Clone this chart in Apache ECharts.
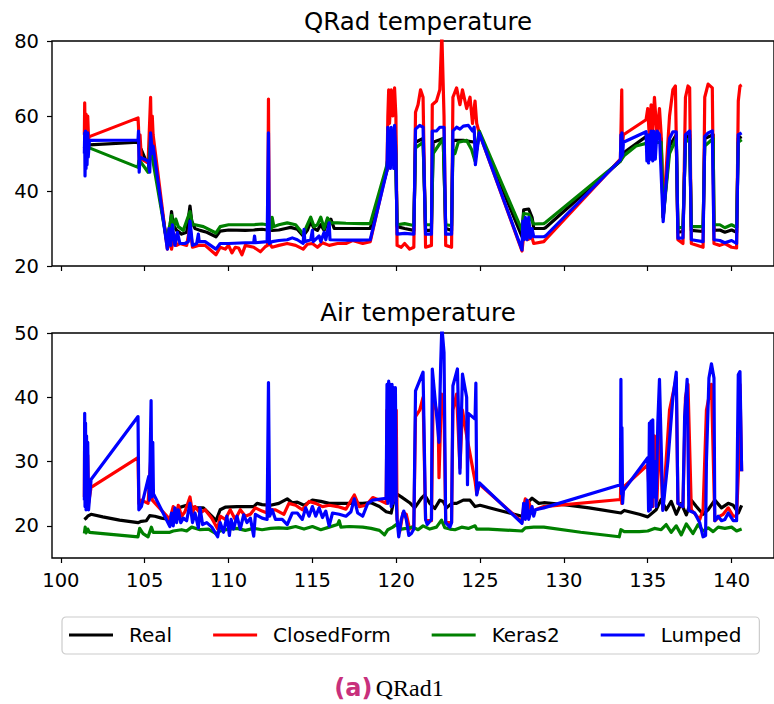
<!DOCTYPE html>
<html>
<head>
<meta charset="utf-8">
<script src="https://cdn.jsdelivr.net/npm/echarts@6/dist/echarts.min.js"></script>
<style>
html,body{margin:0;padding:0;background:#fff;}
#chart{width:774px;height:704px;}
</style>
</head>
<body>
<div id="chart"></div>
<script>
// ---------- DATA ----------
const seriesNames = ['Real', 'ClosedForm', 'Keras2', 'Lumped'];
const seriesColors = ['#000000', '#ff0000', '#008000', '#0000ff'];
const xTicks = [100, 105, 110, 115, 120, 125, 130, 135, 140];
const qradTicks = [20, 40, 60, 80];
const airTicks = [20, 30, 40, 50];
const plotTitles = ['QRad temperature', 'Air temperature'];

// QRad temperature (top)
const qradReal = [[101.4,51.5],[101.45,52.5],[101.5,52],[101.6,52.5],[101.7,52.3],[104.6,53],[104.65,52],[104.8,51],[105.1,47.8],[105.3,48.5],[105.38,53],[105.5,50],[106.3,27],[106.5,30],[106.6,34.5],[106.7,31],[106.9,29.5],[107.2,28.5],[107.5,29],[107.7,36],[107.8,32],[108,30],[108.3,29.5],[108.7,29],[109.25,27.8],[109.5,29.3],[110,29.6],[111,29.5],[111.5,29.6],[112,29.8],[112.3,29.6],[112.6,29.5],[113,29.6],[113.4,30],[113.7,30.3],[114.1,29.8],[114.45,28],[114.7,29.5],[114.9,31.8],[115.1,30],[115.3,29.5],[115.5,31],[115.7,29.5],[115.9,31.5],[116.1,32.5],[116.3,30],[117,30],[118,30],[118.45,30],[119.45,45.5],[119.55,53],[119.65,50],[119.75,55],[119.85,52],[119.95,55.5],[120.05,30.5],[120.5,30],[121.05,29.5],[121.15,53],[121.6,54],[121.75,29.5],[122.1,29.5],[122.2,53],[122.8,54],[122.95,30],[123.3,29.5],[123.38,53.5],[124,53.5],[124.7,53],[124.8,51],[124.95,55.5],[127.5,27.8],[127.6,35],[127.9,35.2],[128.1,33],[128.2,30],[128.8,30],[128.9,30.2],[133.37,48],[133.5,50],[134.9,54.5],[135.8,54],[135.92,33],[136.3,52],[136.7,55],[136.8,29],[137.1,29.2],[137.25,54],[137.5,55],[137.6,29.5],[138.3,29.2],[138.4,54],[138.9,55],[138.95,29.5],[139.3,29.6],[139.6,29],[140,29.6],[140.3,29],[140.4,54],[140.6,54.5]];
const qradClosedForm = [[101.4,55],[101.42,63.5],[101.45,54],[101.5,60.5],[101.55,55],[101.6,60],[101.65,54],[101.7,54.5],[104.6,59.5],[104.63,57],[104.67,48],[104.72,55],[104.8,48.5],[105.2,47.5],[105.35,65],[105.4,52],[105.45,60],[105.5,55],[106.35,24.5],[106.5,27],[106.6,24.5],[106.75,28.5],[106.9,25.5],[107.1,26],[107.5,25.5],[107.7,30.5],[107.85,25],[108.2,25.5],[108.6,25.5],[109.25,23],[109.5,25],[109.8,24.5],[110,25.5],[110.2,23.5],[110.4,25],[110.6,24.8],[110.8,23],[111,25.5],[111.5,25],[111.9,23.8],[112.2,25.2],[112.33,25.5],[112.38,64.5],[112.43,26],[112.6,25],[113,25.5],[113.5,26],[114,25.5],[114.45,24.5],[114.7,25.8],[115,26],[115.3,25],[115.6,26.2],[116,25.5],[116.5,26],[117,26],[117.4,26.8],[118,26],[118.45,26.5],[119.45,46],[119.5,60],[119.55,67],[119.6,58],[119.7,67],[119.8,60],[119.9,67.5],[119.98,60],[120.05,25.5],[120.3,25],[120.5,26],[120.8,24.5],[121.05,25],[121.15,61],[121.3,63],[121.45,67],[121.6,65],[121.75,25],[122.1,25.5],[122.15,63],[122.4,64],[122.6,67],[122.72,82],[122.85,60],[122.95,25.5],[123.3,25],[123.38,65],[123.6,67.5],[123.8,63],[123.95,67],[124.2,62],[124.4,65],[124.55,58],[124.7,64],[124.8,58],[124.95,55.5],[127.5,24],[127.6,28],[127.8,27],[128.1,27.5],[128.2,26],[128.8,26.5],[128.9,27],[133.37,48.5],[133.42,60],[133.45,67],[133.48,52],[133.55,55],[134.9,59],[135,62],[135.1,54],[135.2,63],[135.3,56],[135.4,65],[135.55,55],[135.7,62],[135.8,55],[135.92,33],[136.3,60],[136.5,67],[136.65,68],[136.8,27],[137.1,26],[137.25,65],[137.4,68],[137.5,67.5],[137.6,26],[138.3,25],[138.4,65],[138.6,68.5],[138.85,67.5],[138.95,26],[139.3,25.5],[139.6,26],[140,25],[140.3,24.8],[140.4,64],[140.5,68],[140.6,68.3]];
const qradKeras2 = [[101.4,52],[101.5,51.5],[101.6,52.5],[101.7,51.5],[104.6,46.3],[104.65,48],[104.8,47.5],[105.2,45],[105.35,54],[105.45,49],[106.3,27],[106.5,31],[106.6,33.5],[106.7,30],[106.85,32.5],[107,30.5],[107.3,29.5],[107.7,34.5],[107.85,31],[108,31],[108.5,30.5],[109.25,28.8],[109.5,30.5],[110,31],[111,31],[111.5,31],[112,31.2],[112.3,31],[112.55,30],[112.6,33],[112.7,30.5],[113,31],[113.5,31.5],[114,31],[114.45,28.5],[114.7,31],[114.9,33],[115.1,30.5],[115.3,31],[115.5,33],[115.7,30],[115.9,32.8],[116.1,31.5],[116.5,31.5],[117,31.4],[118,31.3],[118.45,31.3],[119.45,47],[119.6,52],[119.8,53.5],[119.95,53],[120.05,31],[120.5,31.3],[121.05,30.8],[121.15,51.5],[121.6,53],[121.75,31],[122.1,31],[122.2,50],[122.5,52],[122.8,54],[122.95,31],[123.3,30.8],[123.38,51],[123.5,50],[123.7,53],[124.2,53.5],[124.5,51],[124.7,48],[124.95,56],[127.5,29.5],[127.6,34],[127.9,33.8],[128.1,32],[128.2,31.2],[128.8,31.3],[128.9,31.6],[133.37,48],[133.6,49.5],[134.3,52],[134.9,52.7],[135.8,53],[135.92,33],[136.3,50],[136.7,54],[136.8,30],[137.1,30.5],[137.25,53],[137.5,54],[137.6,30.5],[138.3,30.5],[138.4,52],[138.9,54],[138.95,31],[139.3,31],[139.6,30.2],[140,31],[140.3,30.3],[140.4,53],[140.6,53.7]];
const qradLumped = [[101.4,50],[101.42,55.5],[101.44,44],[101.47,56],[101.5,46],[101.53,55],[101.56,47],[101.6,55.5],[101.63,49],[101.7,53.5],[104.6,53.6],[104.63,56],[104.67,45],[104.72,49],[105.2,48],[105.3,45],[105.35,55.5],[105.45,50],[105.5,52],[106.35,24.5],[106.45,30],[106.55,25.5],[106.65,31],[106.8,25.5],[106.95,29],[107.1,26],[107.4,26],[107.6,26.5],[107.7,32],[107.85,25.5],[108.1,26],[108.2,28.5],[108.25,26.5],[108.6,26.5],[109.25,24.5],[109.5,26],[110,26],[111,26.2],[111.5,26.2],[111.55,28],[111.6,26.2],[112.3,26.5],[112.38,55.5],[112.43,26],[112.6,26.5],[113,26.8],[113.5,27],[113.8,27.5],[114.1,27],[114.45,26],[114.5,29.8],[114.55,26.5],[114.9,27],[115,29.5],[115.05,26.5],[115.4,28],[115.5,26.5],[115.7,29],[115.8,27],[116,31.5],[116.05,27],[117,26.9],[118,26.9],[118.45,27],[119.45,45.5],[119.5,57],[119.55,47],[119.6,56],[119.65,46],[119.7,57],[119.75,48],[119.8,56],[119.85,46],[119.9,57.5],[119.98,50],[120.05,28.5],[120.5,28.7],[121.05,28.5],[121.15,56.5],[121.4,57.5],[121.6,57],[121.75,28.5],[122.1,28.5],[122.15,56],[122.4,56],[122.6,57],[122.85,57],[122.95,28.5],[123.3,28.5],[123.38,56],[123.6,57],[123.8,56.5],[124,57.3],[124.3,57.5],[124.55,56],[124.65,57],[124.72,47],[124.8,50],[124.95,55.5],[127.5,24.3],[127.55,32],[127.62,27],[127.7,33],[127.8,27],[127.9,33],[128,27.5],[128.1,30],[128.2,27.8],[128.8,27.8],[128.9,28],[133.37,48.3],[133.4,55],[133.43,49],[133.46,55.5],[133.5,49.5],[133.55,53],[134.9,55.8],[134.95,48],[135,55],[135.05,47.5],[135.1,55],[135.15,48.5],[135.2,56],[135.3,48],[135.35,56],[135.45,48.5],[135.55,56],[135.7,55],[135.92,31.8],[136.3,54],[136.5,55.8],[136.7,55.8],[136.8,27.4],[137.1,27.5],[137.25,55],[137.5,56],[137.6,27],[138.3,26.5],[138.4,54.5],[138.6,55.5],[138.85,56],[138.95,27],[139.3,26.8],[139.6,26.2],[140,26.8],[140.3,26],[140.4,55],[140.6,55.5]];

// Air temperature (bottom)
const airReal = [[101.4,21],[101.5,21.2],[101.6,21.5],[101.8,21.8],[102.5,21.4],[103.5,20.9],[104.6,20.5],[104.8,20.7],[105.1,20.8],[105.3,21.6],[105.6,21.5],[106,21.2],[106.5,21],[107,22.8],[107.5,23.2],[108,22.8],[108.5,22.8],[109,21.5],[109.25,20.8],[109.5,22.5],[109.8,22.9],[110.5,23],[111.5,23],[111.7,23.5],[112,23.3],[112.5,23.2],[113,23.5],[113.5,24.2],[113.8,23.6],[114.1,23.7],[114.5,23.2],[115,24],[115.5,23.8],[116,23.5],[117,23.5],[118,23.5],[118.5,23.6],[119,23],[119.4,22.2],[119.7,22],[119.9,24.5],[120,25],[120.3,24.5],[120.8,23.6],[121.1,22.8],[121.5,24.3],[121.7,24.8],[122,23.5],[122.3,22.7],[122.6,24],[122.8,23.8],[123,22.8],[123.3,23.5],[123.6,23.5],[124,24],[124.4,24],[124.7,23],[125,23.2],[126,22.5],[127.5,21.5],[127.8,23.5],[128.1,24.3],[128.5,23.5],[128.8,23.6],[130,23.3],[131.5,22.8],[133.4,22],[133.6,22.4],[134.5,21.8],[135,21.4],[135.5,22.5],[135.8,24.1],[136.1,22.5],[136.4,23.8],[136.7,21.8],[137,23.5],[137.3,21.7],[137.6,24],[137.9,23],[138.3,21.8],[138.6,22.5],[139,24],[139.4,22.8],[139.8,23.5],[140.1,23.2],[140.4,22],[140.6,23.2]];
const airClosedForm = [[101.4,24.5],[101.42,36],[101.45,25],[101.5,33],[101.55,24],[101.6,31],[101.65,23.5],[101.8,26],[104.6,30.6],[104.65,23.5],[104.8,24],[105.2,23.5],[105.35,30],[105.45,24],[106.5,21],[106.7,23],[106.85,21],[107,23.2],[107.2,21.5],[107.4,22.2],[107.7,24.5],[107.85,22],[108,23],[108.3,22],[108.6,22.5],[109,21.2],[109.35,19.5],[109.5,21.5],[109.8,21],[110.1,22.5],[110.4,21],[110.7,22.5],[111,21.5],[111.3,21.8],[111.6,22.8],[112,22.3],[112.3,22],[112.38,28],[112.45,22.5],[112.8,22.5],[113.3,21.8],[113.6,23.5],[114,23.2],[114.4,22.5],[114.8,23.8],[115.2,23.5],[115.6,23],[116,23.2],[116.5,23],[117,22.6],[117.5,24.8],[117.8,23],[118.2,23.2],[118.6,24.4],[119,24],[119.4,23.5],[119.45,38],[119.5,25],[119.6,38],[119.7,24],[119.8,37],[119.9,24],[120,38],[120.05,21],[120.2,19],[120.4,22],[120.6,21.8],[120.8,19.5],[121.05,20],[121.15,37],[121.4,38],[121.6,40],[121.75,21],[122.1,20.8],[122.2,40],[122.5,37],[122.55,27.5],[122.7,40.5],[122.85,38],[122.95,20.5],[123.3,20.5],[123.38,38],[123.6,40.5],[123.8,29],[123.95,38],[124.2,34],[124.7,27],[124.8,25],[124.95,26.5],[127.5,20.6],[127.6,23],[127.7,24.2],[127.8,22],[127.9,23.8],[128.1,22],[128.3,22.5],[128.8,23],[133.37,24.1],[133.42,30],[133.45,23.5],[133.55,26],[135,29.5],[135.1,24],[135.2,33],[135.3,23],[135.4,34],[135.55,24],[135.7,35],[135.9,22.6],[136.3,38],[136.7,43],[136.8,23.5],[137.1,23],[137.25,40],[137.4,42],[137.6,22.5],[138.1,21],[138.3,22.5],[138.5,38],[138.8,42],[139,20.8],[139.3,21.5],[139.5,21.8],[139.8,22.8],[140.1,21.5],[140.3,21.5],[140.4,28],[140.5,42],[140.6,28.5]];
const airKeras2 = [[101.4,18.8],[101.45,19.8],[101.5,18.9],[101.6,19.5],[101.7,19],[104.6,18.3],[104.7,19.6],[104.9,18.8],[105.2,18.3],[105.4,19.8],[105.5,19],[106.5,19],[106.7,19.2],[107.2,19.4],[107.5,19.2],[107.8,19.8],[108.3,19.4],[108.8,19.5],[109.25,18.8],[109.5,19.2],[110,19.5],[110.5,19.6],[111,19.3],[111.5,19.6],[112,19.4],[112.5,19.6],[113,19.7],[113.5,19.6],[114,19.9],[114.5,19.5],[115,19.9],[115.5,19.4],[116,19.8],[116.5,20.2],[116.6,20.8],[116.7,19.8],[117.2,19.9],[118,19.8],[118.5,19.6],[119,19.3],[119.3,18.6],[119.5,19.4],[119.8,19.8],[120,20.2],[120.3,19.5],[120.6,19.6],[121,19.8],[121.3,19.4],[121.6,20],[122,19.5],[122.4,19.8],[122.7,20.9],[122.9,19.7],[123.2,19.5],[123.5,19.4],[123.9,19.8],[124.3,19.6],[124.7,20],[124.8,19.5],[125.5,19.5],[127.5,19.2],[127.7,19.7],[128.2,19.8],[128.8,19.8],[131,19],[133.3,18.3],[133.4,19.4],[133.6,19.1],[134.5,19.1],[135,19.2],[135.4,19.6],[135.8,19.4],[136.1,20.2],[136.4,19],[136.7,20],[137,18.6],[137.3,20.3],[137.7,18.8],[138,20.2],[138.3,19.2],[138.6,19.7],[138.9,19.1],[139.2,19.8],[139.6,19.6],[140,19.8],[140.3,19.2],[140.6,19.5]];
const airLumped = [[101.4,24],[101.42,37.5],[101.44,23],[101.47,36],[101.5,22.5],[101.53,34],[101.56,23.5],[101.6,33],[101.65,22.5],[101.8,27.2],[104.6,37],[104.65,22.5],[104.8,23],[105.24,27.7],[105.28,24],[105.38,39.5],[105.42,24.5],[105.48,33],[105.52,25],[106.5,19.9],[106.6,22],[106.7,20],[106.8,22.8],[106.9,20.5],[107,22.5],[107.15,20.5],[107.3,21.2],[107.5,20.8],[107.7,23.5],[107.85,20.5],[108,22],[108.2,19.7],[108.3,22.8],[108.45,20.2],[108.7,20.5],[109,19.8],[109.35,18.3],[109.5,20.5],[109.7,19],[109.9,21.5],[110.05,18.5],[110.15,21],[110.3,19.5],[110.5,21.5],[110.7,19.5],[110.9,21.7],[111.1,20.5],[111.3,21.2],[111.5,18.4],[111.6,21.8],[112,21.2],[112.3,21],[112.38,42.3],[112.45,21.5],[112.6,22.5],[112.8,21],[113.2,21],[113.5,20.2],[113.8,22],[114.1,22],[114.4,21],[114.6,22.8],[114.8,21.5],[115,23],[115.2,21.5],[115.4,22.8],[115.6,21.3],[115.8,22.3],[116,20],[116.2,22],[116.6,21.8],[117,21.5],[117.3,22.2],[117.5,24.2],[117.7,22],[118,21.5],[118.3,23.5],[118.6,24],[119.4,24.3],[119.45,42],[119.5,23.5],[119.55,42.5],[119.6,24],[119.65,42],[119.7,23],[119.75,42],[119.8,23.5],[119.85,41.5],[119.9,25],[119.95,41.5],[120,24],[120.05,21],[120.15,18.3],[120.3,21],[120.45,22.3],[120.6,21],[120.75,18.5],[120.9,18.8],[121.05,19.5],[121.15,41],[121.6,43.9],[121.75,21],[121.85,20.2],[122.1,21],[122.15,44.4],[122.45,36],[122.55,33],[122.65,45],[122.72,51],[122.85,47],[122.95,20.5],[123.2,19.8],[123.3,20.5],[123.38,41.8],[123.65,44.4],[123.8,28.2],[123.95,43.6],[124.2,40],[124.25,26.4],[124.3,37.5],[124.7,36.6],[124.75,42.2],[124.8,24.8],[124.95,26.7],[127.5,20.4],[127.6,23.5],[127.7,21],[127.8,24],[127.9,21],[128,22],[128.1,23],[128.2,21.5],[128.3,22.5],[128.8,22.8],[133.37,26.4],[133.4,42.8],[133.43,25],[133.46,35.3],[133.5,23.5],[133.55,25.5],[135,30.6],[135.05,22.3],[135.1,36],[135.15,22.5],[135.2,36.3],[135.25,23],[135.3,36.5],[135.35,24.5],[135.45,30],[135.5,23],[135.6,36],[135.7,42.8],[135.9,22.4],[136.2,30],[136.5,40],[136.7,43.9],[136.8,23.5],[137.1,23],[137.2,37],[137.35,42.8],[137.45,22.4],[137.8,22],[138.1,20.5],[138.3,18.3],[138.45,18.5],[138.5,30],[138.65,43],[138.8,45.2],[138.95,43],[139,20.8],[139.2,21.5],[139.4,20.8],[139.6,21],[139.8,22],[140.1,20.8],[140.3,20.8],[140.4,43.5],[140.5,44],[140.6,28.5]];

const topData = [qradReal, qradClosedForm, qradKeras2, qradLumped];
const bottomData = [airReal, airClosedForm, airKeras2, airLumped];

// ---------- CHART ----------
const chart = echarts.init(document.getElementById('chart'), null, {renderer: 'svg'});
const FONT = 'DejaVu Sans';
const xRange = [99.47, 142.53];

function makeX(gridIndex, showLabels) {
  return {
    type: 'value', gridIndex: gridIndex, min: xRange[0], max: xRange[1],
    axisLine: {show: false},
    splitLine: {show: false},
    axisTick: {show: true, length: 5, inside: false, customValues: xTicks, lineStyle: {color: '#000', width: 1.2}},
    axisLabel: {show: showLabels, customValues: xTicks, color: '#000', fontSize: 19.5, fontFamily: FONT, margin: 12}
  };
}
function makeY(gridIndex, mn, mx, ticks) {
  return {
    type: 'value', gridIndex: gridIndex, min: mn, max: mx,
    axisLine: {show: false},
    splitLine: {show: false},
    axisTick: {show: true, length: 5, inside: false, customValues: ticks, lineStyle: {color: '#000', width: 1.2}},
    axisLabel: {customValues: ticks, color: '#000', fontSize: 19.5, fontFamily: FONT, margin: 13}
  };
}

const series = [];
[topData, bottomData].forEach(function (group, gi) {
  group.forEach(function (d, si) {
    series.push({
      name: seriesNames[si], type: 'line', xAxisIndex: gi, yAxisIndex: gi,
      data: d, showSymbol: false, symbol: 'none', clip: true,
      lineStyle: {color: seriesColors[si], width: 3.2, join: 'round'},
      itemStyle: {color: seriesColors[si]},
      z: 2 + si, animation: false
    });
  });
});

chart.setOption({
  animation: false,
  backgroundColor: '#fff',
  grid: [
    {left: 52, top: 41, right: -10, height: 225, show: true, borderColor: '#000', borderWidth: 1.4, backgroundColor: 'transparent'},
    {left: 52, top: 333, right: -10, height: 225, show: true, borderColor: '#000', borderWidth: 1.4, backgroundColor: 'transparent'}
  ],
  xAxis: [makeX(0, false), makeX(1, true)],
  yAxis: [makeY(0, 20, 80, qradTicks), makeY(1, 15, 50, airTicks)],
  legend: {
    data: seriesNames,
    left: 62, top: 617,
    orient: 'horizontal',
    icon: 'rect', itemWidth: 44, itemHeight: 3, itemGap: 41,
    padding: [8, 18, 9, 7],
    backgroundColor: '#fff', borderColor: '#cccccc', borderWidth: 1.2, borderRadius: 4,
    textStyle: {fontFamily: FONT, fontSize: 20, color: '#000', padding: [0, 0, 0, 11]},
    selectedMode: false
  },
  graphic: [
    {type: 'text', style: {text: plotTitles[0], fontFamily: FONT, fontSize: 24.5, fill: '#000', textAlign: 'center', textVerticalAlign: 'middle'}, x: 418, y: 21, silent: true},
    {type: 'text', style: {text: plotTitles[1], fontFamily: FONT, fontSize: 24.5, fill: '#000', textAlign: 'center', textVerticalAlign: 'middle'}, x: 418, y: 312, silent: true},
    {type: 'text', x: 389, y: 688, silent: true,
      style: {
        text: '{a|(a)} {b|QRad1}', textAlign: 'center', textVerticalAlign: 'middle',
        rich: {
          a: {fontFamily: FONT, fontWeight: 'bold', fontSize: 24, fill: '#c8307c', color: '#c8307c'},
          b: {fontFamily: 'Liberation Serif', fontSize: 24, fill: '#000', color: '#000'}
        }
      }
    }
  ],
  series: series
});
</script>
</body>
</html>
